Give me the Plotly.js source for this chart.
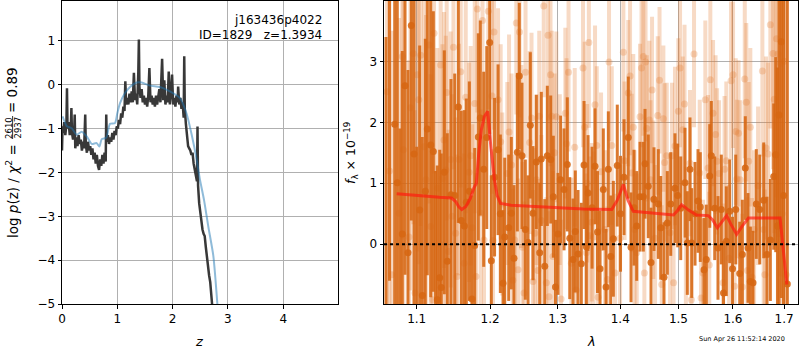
<!DOCTYPE html>
<html><head><meta charset="utf-8">
<script src="https://cdn.plot.ly/plotly-3.0.1.min.js"></script>
<style>html,body{margin:0;padding:0;background:#fff}#c{width:800px;height:350px}</style>
</head><body><div id="c"></div>
<script>
// ---- left panel: p(z) ----
const pzZ = [0.00,0.01,0.02,0.04,0.06,0.08,0.09,0.10,0.12,0.14,
0.16,0.17,0.18,0.20,0.22,0.23,0.24,0.26,0.28,0.30,
0.32,0.34,0.36,0.38,0.40,0.42,0.43,0.45,0.47,0.49,
0.51,0.53,0.55,0.57,0.59,0.61,0.63,0.65,0.67,0.69,
0.71,0.73,0.75,0.77,0.79,0.80,0.81,0.83,0.85,0.87,
0.89,0.91,0.93,0.95,0.97,0.99,1.01,1.03,1.05,1.07,
1.09,1.11,1.13,1.145,1.16,1.18,1.20,1.22,1.24,1.26,
1.28,1.30,1.32,1.34,1.36,1.38,1.39,1.40,1.42,1.44,
1.46,1.48,1.50,1.52,1.54,1.56,1.58,1.60,1.62,1.64,
1.66,1.68,1.70,1.72,1.74,1.76,1.78,1.80,1.81,1.83,
1.85,1.87,1.89,1.91,1.93,1.95,1.97,1.99,2.01,2.03,
2.05,2.07,2.09,2.10,2.12,2.14,2.16,2.18,2.20,2.21,
2.22,2.24,2.26,2.28,2.30,2.32,2.34,2.36,2.38,2.40,
2.42,2.44,2.45,2.46,2.48,2.50,2.52,2.54,2.56,2.58,
2.60,2.62,2.64,2.66,2.68,2.70,2.72];
const pzLog = [-1.50,-0.95,-1.10,-0.85,-1.15,-0.90,-0.08,-1.00,-0.85,-1.15,
-0.95,-0.53,-1.10,-1.25,-1.05,-0.68,-1.45,-1.20,-1.40,-1.15,
-1.35,-1.25,-1.50,-1.30,-1.45,-0.68,-1.35,-1.55,-1.30,-1.50,
-1.40,-1.60,-1.45,-1.70,-1.55,-1.80,-1.60,-1.85,-1.94,-1.70,
-1.85,-1.60,-1.80,-1.55,-1.75,-0.68,-1.30,-1.15,-1.35,-1.20,
-1.30,-1.10,-1.25,-1.05,-1.15,-0.95,-1.00,-0.80,-0.90,-0.65,
-0.75,-0.50,-0.60,0.08,-0.45,-0.30,-0.45,-0.20,-0.40,-0.15,
-0.40,0.27,-0.35,-0.20,-0.45,0.30,1.03,-0.05,-0.30,-0.10,
-0.40,-0.25,-0.45,-0.30,-0.50,-0.25,0.38,-0.40,-0.25,-0.45,
-0.30,-0.50,-0.25,-0.45,-0.20,-0.10,-0.40,0.20,0.59,-0.35,
0.10,-0.45,-0.25,-0.40,0.30,-0.45,-0.20,0.23,-0.45,-0.30,
-0.50,-0.25,-0.40,-0.04,-0.45,-0.30,-0.55,-0.40,-0.75,0.65,
-0.55,-0.90,-1.25,-1.40,-1.45,-1.50,-1.60,-1.55,-1.80,-1.95,
-2.05,-2.20,-0.95,-2.30,-2.70,-2.90,-3.20,-3.30,-3.40,-3.45,
-3.70,-3.95,-4.25,-4.35,-4.50,-4.75,-5.10];
const pzFitZ = [0.01,0.085,0.175,0.265,0.356,0.447,0.537,0.627,0.675,0.718,0.78,0.808,0.868,0.958,1.0,1.049,1.139,1.23,1.35,1.44,1.59,1.77,1.95,2.13,2.25,2.345,2.435,2.495,2.568,2.646,2.736,2.815];
const pzFitLog = [-0.72,-0.94,-0.99,-1.14,-1.07,-1.18,-1.35,-1.33,-1.41,-1.24,-1.22,-1.19,-0.89,-0.875,-0.65,-0.42,-0.19,-0.05,0.05,0.05,-0.02,-0.05,-0.15,-0.30,-0.65,-1.14,-1.71,-2.17,-2.63,-3.24,-3.9,-5.1];
const zTicks = [0,1,2,3,4];
const pzTicks = [-5,-4,-3,-2,-1,0,1];

// ---- right panel: spectrum ----
const darkWave = [1.0607,1.0651,1.0717,1.0750,1.0784,1.0814,1.0849,1.0887,1.0930,1.0965,
1.1000,1.1039,1.1073,1.1113,1.1139,1.1184,1.1219,1.1248,1.1272,1.1304,
1.1325,1.1366,1.1406,1.1456,1.1507,1.1556,1.1597,1.1639,1.1666,1.1708,
1.1745,1.1783,1.1833,1.1861,1.1909,1.1952,1.1994,1.2017,1.2063,1.2113,
1.2146,1.2185,1.2209,1.2267,1.2305,1.2344,1.2393,1.2422,1.2462,1.2511,
1.2551,1.2585,1.2625,1.2675,1.2726,1.2750,1.2802,1.2841,1.2893,1.2933,
1.2966,1.3005,1.3046,1.3098,1.3149,1.3187,1.3238,1.3274,1.3317,1.3369,
1.3412,1.3449,1.3476,1.3540,1.3588,1.3628,1.3669,1.3722,1.3766,1.3804,
1.3843,1.3886,1.3951,1.4004,1.4063,1.4134,1.4180,1.4230,1.4276,1.4332,
1.4388,1.4417,1.4473,1.4520,1.4571,1.4646,1.4688,1.4745,1.4803,1.4863,
1.4938,1.4986,1.5040,1.5116,1.5158,1.5206,1.5237,1.5297,1.5351,1.5393,
1.5461,1.5503,1.5566,1.5595,1.5658,1.5719,1.5781,1.5822,1.5875,1.5939,
1.5992,1.6053,1.6129,1.6179,1.6236,1.6288,1.6333,1.6385,1.6449,1.6516,
1.6594,1.6659,1.6725,1.6792,1.6832,1.6867,1.6898,1.6944,1.6988,1.7065];
const darkFlux = [-1.6,4.4,1.97,1.01,-1.3,0.17,2.6,-0.14,3.59,1.48,
-1.2,0.56,-0.84,0.87,1.89,1.63,1.52,-1.4,-0.91,-0.55,
-0.71,1.18,-0.28,0.81,0.80,2.25,0.39,0.30,0.69,0.87,
-0.9,-0.02,1.76,2.07,1.23,1.75,3.31,-0.27,1.1,1.55,
0.50,-0.64,0.12,0.27,0.51,-0.23,1.51,2.76,1.45,0.24,
0.03,1.95,0.51,1.35,-0.14,1.40,-0.36,1.45,1.39,0.78,
-0.7,0.17,1.06,0.90,1.31,0.10,-0.25,0.21,-0.16,-0.32,
1.30,-0.04,0.84,0.6,1.28,0.2,-0.4,0.90,-0.7,1.23,
-0.20,0.09,1.29,0.5,1.1,1.75,-0.05,0.6,0.30,0.78,
0.78,1.32,0.95,-0.3,0.74,0.66,0.27,-0.54,0.35,0.66,
0.92,0.80,0.59,1.01,0.02,1.23,0.02,0.5,0.71,0.61,
-0.42,-0.25,1.12,1.45,0.59,-0.06,0.57,-0.8,0.05,0.54,
-0.4,0.57,-0.48,-0.17,1.25,-0.06,-0.61,-0.63,0.66,0.57,
0.72,-0.17,0.07,1.11,1.47,0.3,2.12,3.32,0.8,-0.65];
const darkErr = [5,5,3.5,3.4,3.2,3.0,3.1,3.0,3.2,2.9,
2.8,2.7,2.6,2.5,2.4,2.5,2.3,2.6,2.2,2.1,
2.2,2.0,2.1,1.9,2.0,1.9,1.8,1.9,1.7,1.8,
1.7,1.6,1.7,1.6,1.6,1.5,1.5,1.4,1.3,1.4,
1.3,1.2,1.3,1.2,1.25,1.2,1.3,1.2,1.2,1.15,
1.1,1.2,1.1,1.1,1.15,1.1,1.1,1.15,1.05,1.0,
1.1,1.0,1.05,1.0,1.1,1.0,1.0,1.0,1.05,1.0,
1.05,1.0,0.95,1.0,0.95,1.0,0.95,1.0,0.95,0.95,
1.0,0.95,1.0,0.95,0.95,1.0,0.9,0.95,0.9,0.9,
0.9,0.9,0.85,0.9,0.85,0.9,0.85,0.9,0.85,0.85,
0.9,0.85,0.85,0.9,0.85,0.85,0.9,0.85,0.85,0.9,
0.85,0.9,0.85,0.9,0.85,0.85,0.9,0.85,0.9,0.85,
0.85,0.9,0.85,0.9,0.85,0.9,0.9,0.85,0.9,0.9,
0.95,0.95,1.0,1.2,1.6,2.6,3.8,4.2,4.8,5.0];

const lightWave = [1.0620,1.0650,1.0680,
1.0772,1.0814,1.0828,1.0900,1.0919,1.0956,1.0978,1.1008,1.1027,1.1052,1.1096,1.1122,1.1162,1.1184,
1.1208,1.1228,1.1272,1.1317,1.1341,1.1362,1.1386,1.1398,1.1423,1.1452,1.1470,1.1490,1.1520,1.1538,
1.1565,1.1589,1.1635,1.1658,1.1704,1.1727,1.1749,1.1783,1.1801,1.1819,1.1866,1.1892,1.1913,
1.1974,1.2027,1.2041,1.2055,1.2113,1.2151,1.2174,1.2247,1.2272,1.2308,
1.2327,1.2355,1.2378,1.2403,1.2425,1.2452,1.2469,1.2492,1.2514,1.2576,
1.2603,1.2625,1.2651,1.2678,1.2698,1.2719,1.2750,1.2787,1.2826,1.2852,
1.2867,1.2890,1.2910,1.2929,1.2952,1.2979,1.3032,1.3052,1.3118,1.3137,
1.3168,1.3212,1.3265,1.3286,1.3396,1.3423,1.3449,1.3462,1.3489,1.3505,
1.3535,1.3564,1.3588,1.3616,1.3637,1.3685,1.3750,1.3788,1.3815,1.3860,
1.3914,1.3997,1.4052,1.4072,1.4134,1.4164,1.4192,1.4218,1.4239,1.4276,
1.4332,1.4358,1.4388,1.4406,1.4426,1.4447,1.4491,1.4512,1.4538,1.4560,
1.4589,1.4636,1.4667,1.4706,1.4734,1.4755,1.4793,1.4851,1.4886,1.4913,
1.4938,1.4998,1.5028,1.5076,1.5108,1.5132,1.5206,1.5231,1.5279,
1.5383,1.5407,1.5443,1.5485,1.5535,1.5557,1.5577,1.5627,1.5674,1.5702,
1.5739,1.5814,1.5842,1.5875,1.5927,1.5964,1.6002,1.6031,1.6053,1.6075,
1.6107,1.6139,1.6179,1.6226,1.6255,1.6278,1.6301,1.6333,1.6367,1.6406,
1.6484,1.6568,1.6594,1.6617,1.6639,1.6680,1.6725,1.6779,1.6803,1.6849,
1.6879,1.6925,
1.6960,1.7000,1.7040];
const lightFlux = [2.5,1.2,-0.5,
0.51,3.08,1.55,0.12,2.24,3.13,-0.80,2.78,2.37,3.10,1.60,1.06,3.27,0.29,
-0.91,3.46,0.92,2.94,1.08,1.71,1.22,2.49,-0.12,1.39,0.46,3.23,0.18,-0.53,
1.39,2.83,-0.31,2.41,1.18,1.45,0.27,2.31,-0.53,3.86,0.51,3.67,0.07,
3.82,2.43,0.06,3.48,2.37,1.68,0.66,1.16,1.84,1.30,
-0.59,0.07,3.63,-0.42,3.48,1.44,-0.05,-0.80,2.82,1.67,
2.07,-0.61,0.18,1.06,-0.43,2.10,0.39,3.91,-0.63,3.43,
-0.86,2.78,2.10,-0.20,1.50,2.09,1.06,-0.90,2.15,1.65,
2.82,-0.31,1.59,-0.75,2.89,1.92,-0.14,1.00,3.31,0.14,
0.36,0.12,2.29,1.62,-0.87,1.19,0.24,-0.58,2.99,1.62,
-0.47,0.10,3.15,1.37,2.48,2.76,1.17,1.92,0.24,-0.14,
2.09,2.89,3.08,-0.47,2.99,1.90,2.04,1.06,2.53,0.73,
0.10,2.11,2.69,-0.66,2.06,1.34,1.45,0.19,1.45,-0.63,
1.61,2.18,2.89,1.88,2.30,0.07,1.33,-0.91,3.12,
1.17,-0.88,-0.47,2.37,1.25,-0.34,2.70,2.15,1.80,1.36,
1.16,-0.63,1.23,1.37,-0.23,2.68,2.78,-0.69,1.85,1.07,
1.82,1.06,-0.70,2.71,2.33,-0.43,1.36,1.92,-0.54,0.24,
0.96,2.84,0.24,-0.50,1.58,1.48,3.60,3.13,2.38,3.37,
3.12,2.97,
0.5,3.0,-0.5];
const lightErr = [4,4,4,
3.2,3.0,3.1,2.9,3.0,2.8,3.0,2.9,2.7,2.8,2.6,2.7,2.6,2.5,
2.4,2.3,2.3,2.2,2.2,2.1,2.2,2.1,2.0,2.1,2.0,2.0,1.9,2.0,
1.9,1.9,1.8,1.9,1.8,1.8,1.7,1.8,1.7,1.7,1.7,1.6,1.7,
1.6,1.6,1.5,1.6,1.5,1.6,1.5,1.5,1.6,1.5,
1.5,1.4,1.5,1.5,1.4,1.5,1.4,1.5,1.4,1.5,
1.4,1.5,1.4,1.4,1.5,1.4,1.4,1.5,1.4,1.4,
1.4,1.5,1.4,1.4,1.3,1.4,1.4,1.3,1.4,1.4,
1.3,1.4,1.3,1.4,1.3,1.4,1.3,1.3,1.4,1.3,
1.3,1.4,1.3,1.3,1.4,1.3,1.3,1.2,1.3,1.3,
1.3,1.2,1.3,1.3,1.2,1.3,1.3,1.2,1.3,1.3,
1.2,1.3,1.3,1.2,1.3,1.2,1.3,1.3,1.2,1.3,
1.2,1.3,1.2,1.3,1.2,1.3,1.2,1.3,1.2,1.2,
1.3,1.2,1.3,1.2,1.3,1.2,1.2,1.3,1.2,
1.2,1.3,1.2,1.3,1.2,1.2,1.3,1.2,1.3,1.2,
1.2,1.3,1.2,1.3,1.2,1.3,1.2,1.3,1.2,1.3,
1.2,1.3,1.2,1.3,1.3,1.2,1.3,1.3,1.3,1.3,
1.3,1.4,1.4,1.4,1.5,1.5,1.7,1.9,2.2,2.6,
3.0,3.5,
5,5,5];

const modelWave = [1.0742,1.0900,1.1100,1.1300,1.1462,1.1520,1.1560,1.1603,1.1660,1.1720,
1.1770,1.1806,1.1839,1.1876,1.1920,1.1965,1.2010,1.2061,1.2100,1.2149,
1.2300,1.2600,1.3000,1.3400,1.3860,1.3950,1.4052,1.4130,1.4218,1.4500,
1.4911,1.4980,1.5058,1.5180,1.5324,1.5540,1.5620,1.5707,1.5881,1.5960,
1.6070,1.6180,1.6296,1.6600,1.6919,1.7054];
const modelFlux = [0.83,0.81,0.79,0.77,0.76,0.70,0.62,0.57,0.62,0.75,
0.92,1.00,1.49,1.88,2.10,2.18,1.60,1.06,0.80,0.67,
0.64,0.62,0.60,0.58,0.57,0.72,0.98,0.72,0.54,0.52,
0.48,0.55,0.65,0.56,0.48,0.47,0.40,0.27,0.47,0.33,
0.16,0.30,0.43,0.43,0.43,-0.66];
const lamTicks = [1.1,1.2,1.3,1.4,1.5,1.6,1.7];
const fluxTicks = [0,1,2,3];

const W = 800, H = 350;
const px = x => x / W, py = y => 1 - y / H;
const FONT = 'DejaVu Sans';
const ORANGE_D = 'rgba(214,102,18,0.88)';
const ORANGE_L = 'rgba(226,122,45,0.28)';

const traces = [
  {x: pzZ, y: pzLog, xaxis:'x', yaxis:'y', type:'scatter', mode:'lines',
   line:{color:'#383838', width:2.5}},
  {x: pzFitZ, y: pzFitLog, xaxis:'x', yaxis:'y', type:'scatter', mode:'lines',
   line:{color:'rgba(31,119,180,0.5)', width:2, shape:'spline', smoothing:0.6}},
  {x: lightWave, y: lightFlux, xaxis:'x2', yaxis:'y2', type:'scatter', mode:'markers',
   marker:{color:ORANGE_L, size:7, line:{width:0}},
   error_y:{type:'data', array:lightErr, visible:true, thickness:4, width:0, color:ORANGE_L}},
  {x: darkWave, y: darkFlux, xaxis:'x2', yaxis:'y2', type:'scatter', mode:'markers',
   marker:{color:ORANGE_D, size:7, line:{width:0}},
   error_y:{type:'data', array:darkErr, visible:true, thickness:3, width:0, color:ORANGE_D}},
  {x: modelWave, y: modelFlux, xaxis:'x2', yaxis:'y2', type:'scatter', mode:'lines',
   line:{color:'rgba(255,25,15,0.68)', width:3}}
];

const axCommon = {
  showgrid:true, gridcolor:'#b0b0b0', gridwidth:1, zeroline:false,
  showline:true, linecolor:'#000', linewidth:1, mirror:true,
  ticks:'outside', ticklen:3.5, tickwidth:1, tickcolor:'#000',
  tickfont:{family:FONT, size:12, color:'#000'}, automargin:false
};

const layout = {
  width:W, height:H, margin:{l:0,r:0,t:0,b:0},
  paper_bgcolor:'#fff', plot_bgcolor:'#fff', showlegend:false,
  xaxis: Object.assign({}, axCommon, {domain:[px(62),px(338)], range:[0,4.99], anchor:'y',
    tickmode:'array', tickvals:zTicks, ticktext:zTicks.map(String)}),
  yaxis: Object.assign({}, axCommon, {domain:[py(304),py(1)], range:[-5,1.91], anchor:'x',
    tickmode:'array', tickvals:pzTicks, ticktext:pzTicks.map(v => v < 0 ? '\u2212' + Math.abs(v) : String(v))}),
  xaxis2: Object.assign({}, axCommon, {domain:[px(384),px(798)], type:'log',
    range:[Math.log10(1.0582), Math.log10(1.7282)], anchor:'y2',
    tickmode:'array', tickvals:lamTicks, ticktext:lamTicks.map(v => v.toFixed(1))}),
  yaxis2: Object.assign({}, axCommon, {domain:[py(304),py(1)], range:[-0.98,3.99], anchor:'x2',
    tickmode:'array', tickvals:fluxTicks, ticktext:fluxTicks.map(String)}),
  shapes:[
    {type:'line', xref:'x2 domain', x0:0, x1:1, yref:'y2', y0:0, y1:0,
     line:{color:'#000', width:2, dash:'dot'}, layer:'above'},
    {type:'line', xref:'paper', yref:'paper', x0:px(12.6), x1:px(12.6), y0:py(139), y1:py(116),
     line:{color:'#000', width:0.8}}
  ],
  annotations:[
    {text:'j163436p4022', xref:'paper', yref:'paper', x:px(324), y:py(20), xanchor:'right', yanchor:'middle',
     showarrow:false, font:{family:FONT, size:12, color:'#000'}},
    {text:'ID=1829\u00a0\u00a0\u00a0z=1.3934', xref:'paper', yref:'paper', x:px(324), y:py(35), xanchor:'right', yanchor:'middle',
     showarrow:false, font:{family:FONT, size:12, color:'#000'}},
    {text:'log <i>p</i>(z) / <i>χ</i><sup>2</sup> =', xref:'paper', yref:'paper',
     x:px(12), y:py(240), xanchor:'center', yanchor:'bottom', textangle:-90,
     showarrow:false, font:{family:FONT, size:13.5, color:'#000'}},
    {text:'2610', xref:'paper', yref:'paper', x:px(8.4), y:py(127.5), xanchor:'center', yanchor:'middle', textangle:-90,
     showarrow:false, font:{family:FONT, size:8.5, color:'#000'}},
    {text:'2937', xref:'paper', yref:'paper', x:px(17), y:py(127.5), xanchor:'center', yanchor:'middle', textangle:-90,
     showarrow:false, font:{family:FONT, size:8.5, color:'#000'}},
    {text:'= 0.89', xref:'paper', yref:'paper', x:px(12), y:py(65), xanchor:'center', yanchor:'top', textangle:-90,
     showarrow:false, font:{family:FONT, size:13.5, color:'#000'}},
    {text:'<i>z</i>', xref:'paper', yref:'paper', x:px(199), y:py(341), xanchor:'center', yanchor:'middle',
     showarrow:false, font:{family:FONT, size:13, color:'#000'}},
    {text:'<i>λ</i>', xref:'paper', yref:'paper', x:px(591), y:py(341), xanchor:'center', yanchor:'middle',
     showarrow:false, font:{family:FONT, size:13, color:'#000'}},
    {text:'<i>f</i><sub>λ</sub> × 10<sup>\u221219</sup>', xref:'paper', yref:'paper', x:px(351), y:py(153),
     xanchor:'center', yanchor:'middle', textangle:-90,
     showarrow:false, font:{family:FONT, size:12.5, color:'#000'}},
    {text:'Sun Apr 26 11:52:14 2020', xref:'paper', yref:'paper', x:px(787), y:py(339), xanchor:'right', yanchor:'middle',
     showarrow:false, font:{family:FONT, size:6.5, color:'#000'}}
  ]
};

Plotly.newPlot('c', traces, layout, {staticPlot:true, displayModeBar:false});
</script>
</body></html>
